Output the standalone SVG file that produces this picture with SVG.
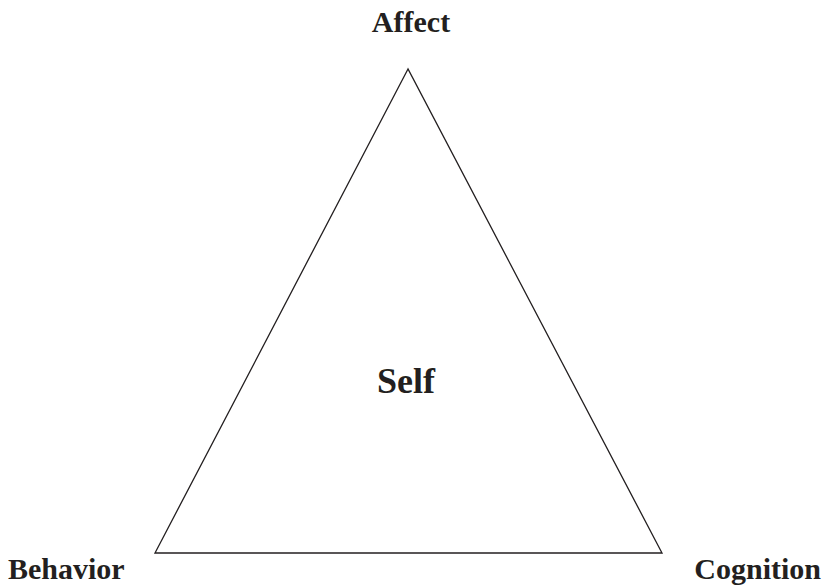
<svg xmlns="http://www.w3.org/2000/svg" width="825" height="587" viewBox="0 0 825 587">
<style>
text{font-family:"Liberation Serif","Times New Roman",serif;font-weight:bold;fill:#231f20}
.lbl{font-size:30px}
.shape{fill:none;stroke:#231f20;stroke-width:1.3}
</style>
<rect width="825" height="587" fill="#fff"/>
<g id="triangle"><polygon class="shape" points="408,69 155,553 662,553"/></g>
<g id="affect"><text class="lbl" x="411" y="32" text-anchor="middle">Affect</text></g>
<g id="self"><text x="406" y="393" font-size="36" text-anchor="middle">Self</text></g>
<g id="behavior"><text class="lbl" x="8" y="579">Behavior</text></g>
<g id="cognition"><text class="lbl" x="821" y="579" text-anchor="end">Cognition</text></g>
<g id="connectors"></g>
</svg>
